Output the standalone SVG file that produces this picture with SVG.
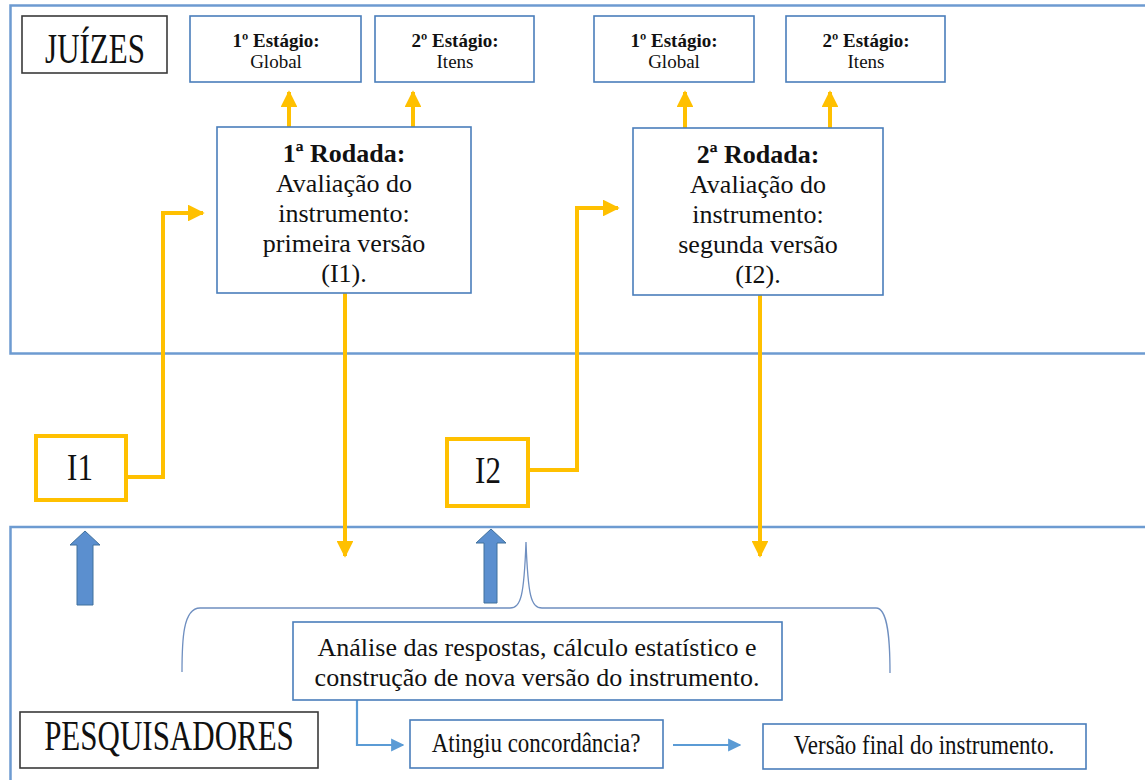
<svg xmlns="http://www.w3.org/2000/svg" width="1145" height="780" viewBox="0 0 1145 780">
  <defs>
    <style>
      .lane { fill: none; stroke: #6d9bd1; stroke-width: 2.5; }
      .box { fill: #ffffff; stroke: #4a7ebb; stroke-width: 1.6; }
      .tag { fill: #ffffff; stroke: #3a3a3a; stroke-width: 1.6; }
      .ibox { fill: #ffffff; stroke: #ffc000; stroke-width: 4; }
      .t { font-family: "Liberation Serif", "Times New Roman", serif; fill: #111111; text-anchor: middle; }
      .stage { font-size: 19px; }
      .round { font-size: 26px; }
      .big { font-size: 31px; }
      .mid { font-size: 23px; }
      .note { font-size: 26px; }
      .b { font-weight: bold; }
      .ylw { fill: none; stroke: #ffc000; stroke-width: 4; }
      .blu { fill: none; stroke: #5b9bd5; stroke-width: 2.2; }
      .brace { fill: none; stroke: #6f8fc0; stroke-width: 1.3; }
      .block { fill: #5b8fcf; stroke: #41719c; stroke-width: 1; }
    </style>
    <marker id="ya" viewBox="0 0 10 10" refX="9" refY="5" markerWidth="4.2" markerHeight="4.2" orient="auto" markerUnits="strokeWidth">
      <path d="M0,0 L10,5 L0,10 z" fill="#ffc000"/>
    </marker>
    <marker id="ba" viewBox="0 0 10 10" refX="9" refY="5" markerWidth="6" markerHeight="6" orient="auto" markerUnits="strokeWidth">
      <path d="M0,0 L10,5 L0,10 z" fill="#5b9bd5"/>
    </marker>
  </defs>

  <rect width="1145" height="780" fill="#ffffff"/>

  <!-- swimlanes -->
  <g id="lane-juizes">
    <rect class="lane" x="10.5" y="5.5" width="1150" height="348"/>
  </g>
  <g id="lane-pesquisadores">
    <rect class="lane" x="10.5" y="527" width="1150" height="270"/>
  </g>

  <!-- connectors -->
  <g id="connectors">
    <path class="ylw" d="M289,127 V92" marker-end="url(#ya)"/>
    <path class="ylw" d="M413,127 V92" marker-end="url(#ya)"/>
    <path class="ylw" d="M685,128 V92" marker-end="url(#ya)"/>
    <path class="ylw" d="M830,128 V92" marker-end="url(#ya)"/>
    <path class="ylw" d="M126,477 H163 V213 H203" marker-end="url(#ya)"/>
    <path class="ylw" d="M528,470 H577 V208 H618" marker-end="url(#ya)"/>
    <path class="ylw" d="M345,293 V556" marker-end="url(#ya)"/>
    <path class="ylw" d="M760,295 V556" marker-end="url(#ya)"/>
    <path class="blu" d="M357,700 V745 H403" marker-end="url(#ba)"/>
    <path class="blu" d="M673,745 H740" marker-end="url(#ba)"/>
    <path class="block" d="M77,605 V545 H70 L85,531 L100,545 H93 V605 Z"/>
    <path class="block" d="M484,603 V543 H476 L491,529 L506,543 H497 V603 Z"/>
    <path class="brace" d="M182,672 C182,640 183,608 200,608 L510,608 C521,608 524,596 526,542 C528,596 531,608 542,608 L876,608 C888,608 890,640 890,673"/>
  </g>

  <!-- nodes -->
  <g id="juizes">
    <rect class="tag" x="22" y="16" width="145" height="57"/>
    <text class="t big" transform="translate(95,63) scale(1,1.33)">JUÍZES</text>
  </g>
  <g id="estagio1-a">
    <rect class="box" x="190" y="16" width="171" height="66"/>
    <text class="t stage b" x="276" y="47">1º Estágio:</text>
    <text class="t stage" x="276" y="68">Global</text>
  </g>
  <g id="estagio2-a">
    <rect class="box" x="375" y="16" width="159" height="66"/>
    <text class="t stage b" x="455" y="47">2º Estágio:</text>
    <text class="t stage" x="455" y="68">Itens</text>
  </g>
  <g id="estagio1-b">
    <rect class="box" x="594" y="16" width="160" height="66"/>
    <text class="t stage b" x="674" y="47">1º Estágio:</text>
    <text class="t stage" x="674" y="68">Global</text>
  </g>
  <g id="estagio2-b">
    <rect class="box" x="786" y="16" width="159" height="66"/>
    <text class="t stage b" x="866" y="47">2º Estágio:</text>
    <text class="t stage" x="866" y="68">Itens</text>
  </g>
  <g id="rodada1">
    <rect class="box" x="217" y="127" width="254" height="166"/>
    <text class="t round b" x="344" y="162">1ª Rodada:</text>
    <text class="t round" x="344" y="192">Avaliação do</text>
    <text class="t round" x="344" y="222">instrumento:</text>
    <text class="t round" x="344" y="252">primeira versão</text>
    <text class="t round" x="344" y="282">(I1).</text>
  </g>
  <g id="rodada2">
    <rect class="box" x="633" y="128" width="250" height="167"/>
    <text class="t round b" x="758" y="163">2ª Rodada:</text>
    <text class="t round" x="758" y="193">Avaliação do</text>
    <text class="t round" x="758" y="223">instrumento:</text>
    <text class="t round" x="758" y="253">segunda versão</text>
    <text class="t round" x="758" y="283">(I2).</text>
  </g>
  <g id="i1">
    <rect class="ibox" x="36" y="436" width="90" height="64"/>
    <text class="t big" transform="translate(80,480) scale(1,1.2)">I1</text>
  </g>
  <g id="i2">
    <rect class="ibox" x="447" y="439" width="81" height="67"/>
    <text class="t big" transform="translate(488,483) scale(1,1.2)">I2</text>
  </g>
  <g id="analise">
    <rect class="box" x="293" y="622" width="489" height="78"/>
    <text class="t note" x="537" y="656">Análise das respostas, cálculo estatístico e</text>
    <text class="t note" x="537" y="686">construção de nova versão do instrumento.</text>
  </g>
  <g id="pesquisadores">
    <rect class="tag" x="20" y="712" width="298" height="56"/>
    <text class="t big" transform="translate(169,750) scale(1,1.33)">PESQUISADORES</text>
  </g>
  <g id="concordancia">
    <rect class="box" x="410" y="720" width="253" height="48"/>
    <text class="t mid" transform="translate(536,752) scale(1,1.15)">Atingiu concordância?</text>
  </g>
  <g id="versao-final">
    <rect class="box" x="763" y="724" width="323" height="45"/>
    <text class="t mid" transform="translate(924,754) scale(1,1.15)">Versão final do instrumento.</text>
  </g>
</svg>
